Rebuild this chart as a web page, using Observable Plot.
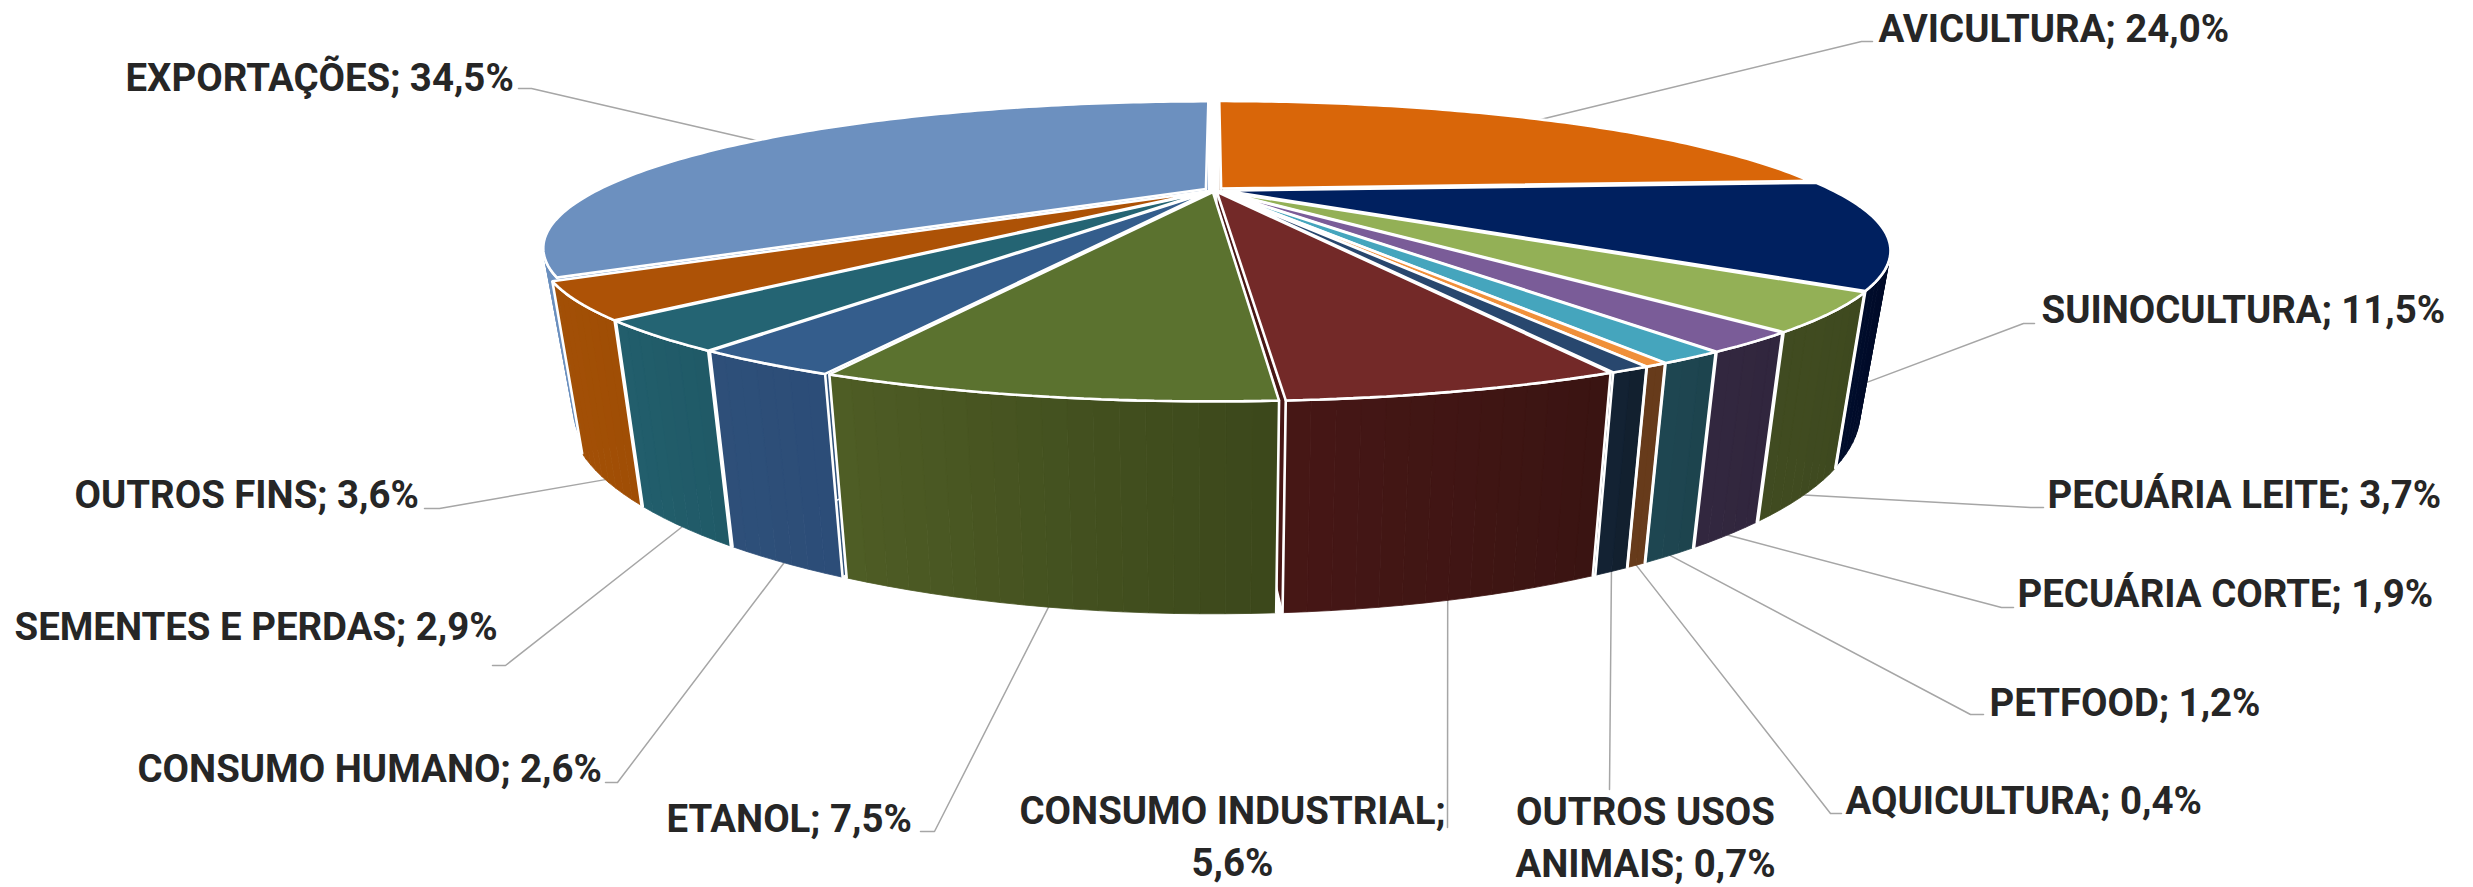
<!DOCTYPE html>
<html lang="pt">
<head>
<meta charset="utf-8">
<script src="https://cdn.jsdelivr.net/npm/d3@7"></script>
<script src="https://cdn.jsdelivr.net/npm/@observablehq/plot@0.6"></script>
<style>
html,body{margin:0;padding:0;background:#fff;}
svg{display:block;max-width:none;}
</style>
</head>
<body>
<div id="chart"></div>
<script>
// --- data, clockwise from the back of the pie ---
const names = ["AVICULTURA","SUINOCULTURA","PECUÁRIA LEITE","PECUÁRIA CORTE","PETFOOD","AQUICULTURA","OUTROS USOS ANIMAIS","CONSUMO INDUSTRIAL","ETANOL","CONSUMO HUMANO","SEMENTES E PERDAS","OUTROS FINS","EXPORTAÇÕES"];
const values = [24.0,11.5,3.7,1.9,1.2,0.4,0.7,5.6,7.5,2.6,2.9,3.6,34.5];
const labelTexts = ["AVICULTURA; 24,0%","SUINOCULTURA; 11,5%","PECUÁRIA LEITE; 3,7%","PECUÁRIA CORTE; 1,9%","PETFOOD; 1,2%","AQUICULTURA; 0,4%","OUTROS USOS\nANIMAIS; 0,7%","CONSUMO INDUSTRIAL;\n5,6%","ETANOL; 7,5%","CONSUMO HUMANO; 2,6%","SEMENTES E PERDAS; 2,9%","OUTROS FINS; 3,6%","EXPORTAÇÕES; 34,5%"];
const topColors = ["#d96609","#00205f","#93b056","#7a5c98","#45a5bd","#f0903a","#28476e","#732928","#5b722f","#345d8c","#246473","#ad5206","#6c90bf"];
const wallStart = ["#7a3a05","#000c2c","#414c21","#33283f","#1f4854","#673b1b","#14263a","#481716","#505f26","#2e5079","#225f6d","#a35006","#6c90bf"];
const wallEnd   = ["#7a3a05","#000a26","#3e491f","#31263e","#1d444e","#673b1b","#12202f","#3a1412","#3c481b","#2c4d78","#205a67","#a04e05","#6c90bf"];

// --- layout of labels and leader lines, in picture units ---
const labelX = [1878,2041,2047,2017,1989,1845,1645,1232,666,137,14,74,125];
const labelY = [24.5,305.5,490.5,589.5,698.5,796.5,834,833,814.5,764.5,622.5,490.5,73.5];
const labelAnchor = ["start","start","start","start","start","start","middle","middle","start","start","start","start","start"];
const elbowX = [1861,2023,2030,2001,1970,1830,1609,1447,934,617,505,439,531];
const elbowY = [41,323,507,607,714,813,789,827,831,782,665,508,88];
const endX   = [1872,2034,2043,2013,1983,1841,1609,1447,920,605,492,424,518];
const endY   = [41,323,507,607,714,813,789,827,831,782,665,508,88];
const anchorShare = [0.5,0.86,0.5,0.5,0.5,0.5,0.5,0.5,0.5,0.5,0.5,0.5,0.5];
const anchorDrop  = [0,0.65,1,1,1,1,1,1,1,1,1,1,0];

// --- perspective of the pie ---
const W = 2473, H = 887;
const cx = 1214, topY = 189.5, topA = 123.5, rX = 608, persp = 0.40;
const botY = 331, botA = 165, botScale = 0.955, explode = 0.016;
const wallFrom = 110 * Math.PI / 180, wallTo = 250 * Math.PI / 180;

function project(X, Y, z) {
  const d = 1 - persp * Y;
  const xt = cx + rX * X / d, yt = topY + topA * Y / d;
  const xb = cx + botScale * rX * X / d, yb = botY + botA * Y / d;
  return {x: xt + (xb - xt) * z, y: yt + (yb - yt) * z};
}
const total = d3.sum(values);
let acc = 0;
const slices = values.map((v, i) => {
  const a0 = acc / total * 2 * Math.PI; acc += v;
  const a1 = acc / total * 2 * Math.PI;
  const m = (a0 + a1) / 2;
  return {i, a0, a1, m, ox: explode * Math.sin(m), oy: -explode * Math.cos(m)};
});
const rim = (s, a, z) => project(s.ox + Math.sin(a), s.oy - Math.cos(a), z);
const apex = (s, z) => project(s.ox, s.oy, z);
const arcBetween = (a0, a1, step = Math.PI / 180) => {
  const n = Math.max(2, Math.ceil((a1 - a0) / step));
  return d3.range(n + 1).map(j => a0 + (a1 - a0) * j / n);
};
const depthOrder = slices.slice().sort((p, q) => -Math.cos(p.m) + Math.cos(q.m));
const visibleWalls = depthOrder
  .map(s => ({s, a0: Math.max(s.a0, wallFrom), a1: Math.min(s.a1, wallTo)}))
  .filter(w => w.a1 > w.a0);

// top faces
const topFaces = slices.flatMap(s => {
  const pts = [apex(s, 0), ...arcBetween(s.a0, s.a1).map(a => rim(s, a, 0)), apex(s, 0)];
  return pts.map(p => ({...p, id: s.i, c: topColors[s.i]}));
});
// radial cut faces
const radial = depthOrder.flatMap(s => [s.a0, s.a1].flatMap((a, k) => {
  const pts = [apex(s, 0), rim(s, a, 0), rim(s, a, 1), apex(s, 1), apex(s, 0)];
  return pts.map(p => ({...p, id: s.i + "r" + k, c: wallStart[s.i]}));
}));
// outer wall: narrow strips carrying the horizontal shading
const strips = visibleWalls.flatMap(({s, a0, a1}) => {
  const as = arcBetween(a0, a1, Math.PI / 120);
  const col = d3.interpolateRgb(wallStart[s.i], wallEnd[s.i]);
  return as.slice(1).flatMap((a, j) => {
    const b = as[j];
    const pts = [rim(s, b, 0), rim(s, a, 0), rim(s, a, 1), rim(s, b, 1), rim(s, b, 0)];
    return pts.map(p => ({...p, id: s.i + "s" + j, c: col(1 - j / as.length)}));
  });
});
// white edges of each outer wall, only where a slice really ends
// (the slice that wraps out of sight on the left is hidden by its neighbour at its start)
const outlines = visibleWalls.flatMap(({s, a0, a1}) => {
  const as = arcBetween(a0, a1);
  const pts = [];
  if (a0 === s.a0 && a1 === s.a1) pts.push(rim(s, a0, 1));
  if (a0 !== s.a0) pts.push(rim(s, a0, 0));
  pts.push(...as.map(a => rim(s, a, 0)));
  if (a1 === s.a1) pts.push(rim(s, a1, 1));
  return pts.map(p => ({...p, id: s.i}));
});
// leader lines
const leaders = slices.flatMap(s => {
  const a = s.a0 + (s.a1 - s.a0) * anchorShare[s.i];
  const p = rim(s, a, anchorDrop[s.i]);
  return [p, {x: elbowX[s.i], y: elbowY[s.i]}, {x: endX[s.i], y: endY[s.i]}].map(q => ({...q, id: s.i}));
});
const labelRows = labelTexts.map((t, i) => ({t, x: labelX[i], y: labelY[i], anchor: labelAnchor[i]}));
const textMark = anchor => Plot.text(labelRows.filter(d => d.anchor === anchor), {
  x: "x", y: "y", text: "t", textAnchor: anchor, lineAnchor: "middle",
  fontFamily: "Roboto", fontWeight: 700, fontSize: 38.4, fill: "#262626", lineHeight: 1.35
});

const chart = Plot.plot({
  width: W, height: H, margin: 0, style: {background: "#fff"},
  x: {domain: [0, W], range: [0, W], axis: null},
  y: {domain: [0, H], range: [0, H], axis: null},
  color: {type: "identity"},
  marks: [
    Plot.line(leaders, {x: "x", y: "y", z: "id", stroke: "#a6a6a6", strokeWidth: 1.5, curve: "linear"}),
    Plot.line(radial, {x: "x", y: "y", z: "id", fill: "c", stroke: "#fff", strokeWidth: 1.5}),
    Plot.line(strips, {x: "x", y: "y", z: "id", fill: "c", stroke: "c", strokeWidth: 0.8}),
    Plot.line(outlines, {x: "x", y: "y", z: "id", stroke: "#fff", strokeWidth: 2.6}),
    Plot.line(topFaces, {x: "x", y: "y", z: "id", fill: "c", stroke: "#fff", strokeWidth: 2.6, strokeLinejoin: "miter"}),
    textMark("start"),
    textMark("middle")
  ]
});
document.getElementById("chart").append(chart);
</script>
</body>
</html>
